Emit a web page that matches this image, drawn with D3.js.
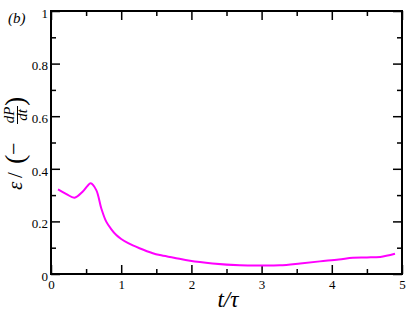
<!DOCTYPE html>
<html>
<head>
<meta charset="utf-8">
<script src="https://cdn.jsdelivr.net/npm/d3@7"></script>
<style>
  body { margin: 0; background: #fff; }
</style>
</head>
<body>
<div id="chart"></div>
<script>
const width = 409,
    height = 318;
const margin = { top: 11, right: 7, bottom: 44, left: 51 };
const serif = '"Liberation Serif", "Times New Roman", "DejaVu Serif", serif';

// values
const tValues = [0.10, 0.22, 0.335, 0.45, 0.52, 0.565, 0.645, 0.716, 0.787, 0.86, 0.93, 1.00, 1.10, 1.26, 1.45, 1.55, 1.75, 1.98, 2.30, 2.69, 3.00, 3.26, 3.55, 3.83, 4.10, 4.30, 4.50, 4.69, 4.90];
const ratioValues = [0.322, 0.304, 0.290, 0.313, 0.335, 0.345, 0.319, 0.250, 0.199, 0.170, 0.148, 0.133, 0.117, 0.098, 0.079, 0.072, 0.062, 0.050, 0.040, 0.033, 0.032, 0.033, 0.040, 0.048, 0.055, 0.062, 0.063, 0.065, 0.077];
const xTicks = [0, 1, 2, 3, 4, 5];
const yTicks = [0, 0.2, 0.4, 0.6, 0.8, 1];
const yTickLabels = ['0', '0.2', '0.4', '0.6', '0.8', '1'];

const svg = d3.select('#chart')
    .append('svg')
    .attr('width', width)
    .attr('height', height);

const x = d3.scaleLinear().domain([0, 5]).range([margin.left, width - margin.right]);
const y = d3.scaleLinear().domain([0, 1]).range([height - margin.bottom, margin.top]);

const plotW = x(5) - x(0),
    plotH = y(0) - y(1);

// ticks, pointing inward, on all four sides
function styleAxis(g) {
    g.select('.domain').remove();
    g.selectAll('.tick line').attr('stroke', '#000').attr('stroke-width', 1.5);
    g.selectAll('.tick text')
        .style('font-family', serif)
        .style('font-size', '13px')
        .attr('fill', '#000');
}

const minorX = d3.range(0.5, 5, 1);
const minorY = d3.range(0.1, 1, 0.2);

svg.append('g')
    .attr('transform', 'translate(0,' + y(0) + ')')
    .call(d3.axisBottom(x).tickValues(xTicks).tickSize(-9).tickPadding(6).tickFormat(d3.format('d')))
    .call(styleAxis);

svg.append('g')
    .attr('transform', 'translate(0,' + y(0) + ')')
    .call(d3.axisBottom(x).tickValues(minorX).tickSize(-5).tickFormat(''))
    .call(styleAxis);

svg.append('g')
    .attr('transform', 'translate(0,' + y(1) + ')')
    .call(d3.axisTop(x).tickValues(xTicks).tickSize(-9).tickFormat(''))
    .call(styleAxis);

svg.append('g')
    .attr('transform', 'translate(0,' + y(1) + ')')
    .call(d3.axisTop(x).tickValues(minorX).tickSize(-5).tickFormat(''))
    .call(styleAxis);

svg.append('g')
    .attr('transform', 'translate(' + x(0) + ',0)')
    .call(d3.axisLeft(y).tickValues(yTicks).tickSize(-9).tickPadding(3).tickFormat((d, i) => yTickLabels[i]))
    .call(styleAxis)
    .call(g => g.selectAll('.tick text').attr('dy', '0.48em'));

svg.append('g')
    .attr('transform', 'translate(' + x(0) + ',0)')
    .call(d3.axisLeft(y).tickValues(minorY).tickSize(-5).tickFormat(''))
    .call(styleAxis);

svg.append('g')
    .attr('transform', 'translate(' + x(5) + ',0)')
    .call(d3.axisRight(y).tickValues(yTicks).tickSize(-9).tickFormat(''))
    .call(styleAxis);

svg.append('g')
    .attr('transform', 'translate(' + x(5) + ',0)')
    .call(d3.axisRight(y).tickValues(minorY).tickSize(-5).tickFormat(''))
    .call(styleAxis);

// frame
svg.append('rect')
    .attr('x', x(0))
    .attr('y', y(1))
    .attr('width', plotW)
    .attr('height', plotH)
    .attr('fill', 'none')
    .attr('stroke', '#000')
    .attr('stroke-width', 2);

// curve
const pts = tValues.map((t, i) => [t, ratioValues[i]]);
const line = d3.line()
    .x(d => x(d[0]))
    .y(d => y(d[1]))
    .curve(d3.curveCatmullRom);

svg.append('path')
    .datum(pts)
    .attr('d', line)
    .attr('fill', 'none')
    .attr('stroke', '#ff00ff')
    .attr('stroke-width', 2);

function label(sel, size, italic) {
    return sel.style('font-family', serif)
        .style('font-size', size + 'px')
        .style('font-style', italic ? 'italic' : 'normal');
}

// panel tag
svg.append('text')
    .attr('x', 8)
    .attr('y', 23)
    .text('(b)')
    .call(label, 15, true);

// x label
svg.append('text')
    .attr('x', 228)
    .attr('y', 307)
    .attr('text-anchor', 'middle')
    .text('t/τ')
    .call(label, 23, true);

// y label, built up along the rotated baseline
const yl = svg.append('g')
    .attr('transform', 'translate(22,190) rotate(-90)');

yl.append('text').attr('x', 0).attr('y', 0).text('ε').call(label, 21, true);
yl.append('text').attr('x', 12).attr('y', 0).text('/').call(label, 21, false);
yl.append('text').attr('x', 26).attr('y', 2).text('(').call(label, 28, false);
yl.append('text').attr('x', 35).attr('y', -1).text('−').call(label, 22, false);
yl.append('text').attr('x', 75).attr('y', -8).attr('text-anchor', 'middle').text('dP').call(label, 15, true);
yl.append('line').attr('x1', 66).attr('x2', 84).attr('y1', -4.5).attr('y2', -4.5).attr('stroke', '#000').attr('stroke-width', 1);
yl.append('text').attr('x', 75).attr('y', 5).attr('text-anchor', 'middle').text('dt').call(label, 15, true);
yl.append('text').attr('x', 84).attr('y', 2).text(')').call(label, 28, false);
</script>
</body>
</html>
